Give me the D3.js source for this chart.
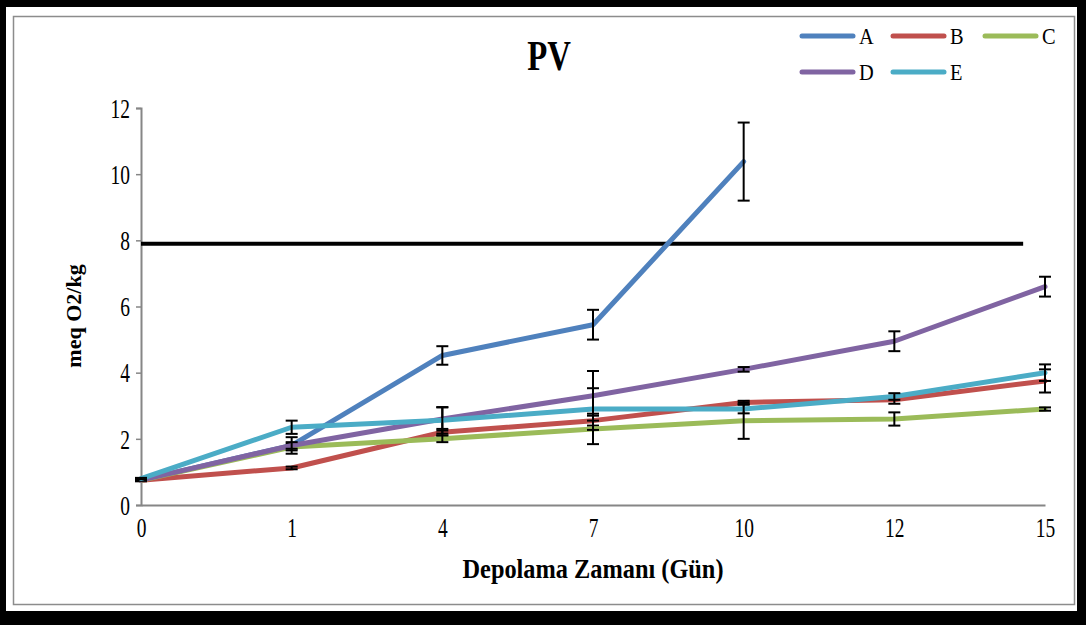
<!DOCTYPE html>
<html><head><meta charset="utf-8">
<script src="https://cdn.jsdelivr.net/npm/d3@7"></script>
<style>
html,body{margin:0;padding:0;background:#fff;}
svg{display:block;}
svg text{font-family:"Liberation Serif","DejaVu Serif",serif !important;}
</style></head>
<body>
<svg id="chart" width="1086" height="625"></svg>
<script>
const categories = ["0","1","4","7","10","12","15"];
const seriesNames = ["A","B","C","D","E"];
const valuesA = [0.75, 1.8, 4.52, 5.45, 10.38, null, null];
const valuesB = [0.75, 1.12, 2.2, 2.55, 3.1, 3.18, 3.75];
const valuesC = [0.75, 1.75, 2.0, 2.3, 2.55, 2.6, 2.9];
const valuesD = [0.75, 1.8, 2.6, 3.3, 4.1, 4.95, 6.6];
const valuesE = [0.8, 2.35, 2.56, 2.9, 2.9, 3.28, 4.0];
const errA = [0.03, 0.25, 0.28, 0.45, 1.18, null, null];
const errB = [0.03, 0.04, 0.1, 0.15, 0.05, 0.12, 0.35];
const errC = [0.02, 0.1, 0.1, 0.46, 0.55, 0.2, 0.05];
const errD = [0.02, 0.1, 0.35, 0.75, 0.07, 0.3, 0.3];
const errE = [0.02, 0.2, 0.4, 0.63, 0.13, 0.1, 0.25];
const yTicks = [0, 2, 4, 6, 8, 10, 12];
const limitValue = 7.9;
const titleText = "PV";
const xTitle = "Depolama Zamanı (Gün)";
const yTitle = "meq O2/kg";

const colors = ["#4F81BD","#C0504D","#9BBB59","#8064A2","#4BACC6"];
const allValues = [valuesA, valuesB, valuesC, valuesD, valuesE];
const allErr = [errA, errB, errC, errD, errE];
const FONT = '"Liberation Serif","DejaVu Serif",serif';

const svg = d3.select("#chart").attr("font-family", FONT);
svg.append("rect").attr("x",0).attr("y",0).attr("width",1086).attr("height",625).attr("fill","#000");
svg.append("rect").attr("x",6).attr("y",7).attr("width",1071).attr("height",604).attr("fill","#fff");
svg.append("rect").attr("x",13.5).attr("y",16.5).attr("width",1061).attr("height",588)
  .attr("fill","#fff").attr("stroke","#8c8c8c").attr("stroke-width",1.5);

const x = d3.scalePoint().domain(categories).range([141, 1045]);
const y = d3.scaleLinear().domain([0, 12]).range([505, 108]);

function squish(sel, f){
  sel.each(function(){
    const n = this; const L = n.getComputedTextLength();
    d3.select(n).attr("textLength", L*f).attr("lengthAdjust","spacingAndGlyphs");
  });
}

const yAxis = svg.append("g").attr("transform","translate(141,0)")
  .call(d3.axisLeft(y).tickValues(yTicks).tickSize(5).tickPadding(6).tickFormat(d3.format("d")));
yAxis.attr("font-family", FONT);
yAxis.select(".domain").attr("stroke","#868686").attr("stroke-width",2);
yAxis.selectAll(".tick line").attr("stroke","#868686").attr("stroke-width",1.5);
yAxis.selectAll("text").attr("font-size",27).attr("fill","#000").attr("dy","0.34em");
squish(yAxis.selectAll("text"), 0.72);

const xAxis = svg.append("g").attr("transform","translate(0,505)")
  .call(d3.axisBottom(x).tickSize(0).tickPadding(23));
xAxis.attr("font-family", FONT);
xAxis.select(".domain").attr("stroke","#868686").attr("stroke-width",2);
xAxis.selectAll("text").attr("font-size",27).attr("fill","#000").attr("dy","0.34em");
squish(xAxis.selectAll("text"), 0.72);

const step = x.step();
svg.append("line").attr("x1", x(categories[0])).attr("x2", x(categories[5]) + step*0.855)
  .attr("y1", y(limitValue)).attr("y2", y(limitValue))
  .attr("stroke","#000").attr("stroke-width",4);

const line = d3.line().defined(d => d.v != null).x(d => x(d.c)).y(d => y(d.v));
allValues.forEach((vals, i) => {
  const pts = categories.map((c, j) => ({c, v: vals[j], e: allErr[i][j]}));
  const g = svg.append("g");
  g.append("path").datum(pts).attr("d", line).attr("fill","none")
    .attr("stroke", colors[i]).attr("stroke-width",5).attr("stroke-linejoin","round").attr("stroke-linecap","round");
  const eb = g.selectAll(".eb").data(pts.filter(d => d.v != null && d.e != null)).enter().append("g");
  eb.append("line").attr("x1", d => x(d.c)).attr("x2", d => x(d.c))
    .attr("y1", d => y(d.v + d.e)).attr("y2", d => y(d.v - d.e)).attr("stroke","#000").attr("stroke-width",2);
  eb.append("line").attr("x1", d => x(d.c)-6).attr("x2", d => x(d.c)+6)
    .attr("y1", d => y(d.v + d.e)).attr("y2", d => y(d.v + d.e)).attr("stroke","#000").attr("stroke-width",2);
  eb.append("line").attr("x1", d => x(d.c)-6).attr("x2", d => x(d.c)+6)
    .attr("y1", d => y(d.v - d.e)).attr("y2", d => y(d.v - d.e)).attr("stroke","#000").attr("stroke-width",2);
});

const t = svg.append("text").attr("x",549).attr("y",70).attr("text-anchor","middle")
  .attr("font-size",42).attr("font-weight","bold").text(titleText);
squish(t, 0.78);

const xt = svg.append("text").attr("x",593).attr("y",578).attr("text-anchor","middle")
  .attr("font-size",27).attr("font-weight","bold").text(xTitle);
xt.attr("textLength", 261).attr("lengthAdjust","spacingAndGlyphs");
svg.append("text").attr("transform","translate(81,316) rotate(-90)").attr("text-anchor","middle")
  .attr("font-size",22).attr("font-weight","bold").text(yTitle);

const legPos = [[802,36],[893,36],[985,36],[802,72],[893,72]];
seriesNames.forEach((n, i) => {
  const [lx, ly] = legPos[i];
  svg.append("line").attr("x1", lx).attr("x2", lx+51).attr("y1", ly).attr("y2", ly)
    .attr("stroke", colors[i]).attr("stroke-width",5).attr("stroke-linecap","round");
  const lt = svg.append("text").attr("x", lx+57).attr("y", ly+8).attr("font-size",24).text(n);
  squish(lt, 0.85);
});
</script>
</body></html>
